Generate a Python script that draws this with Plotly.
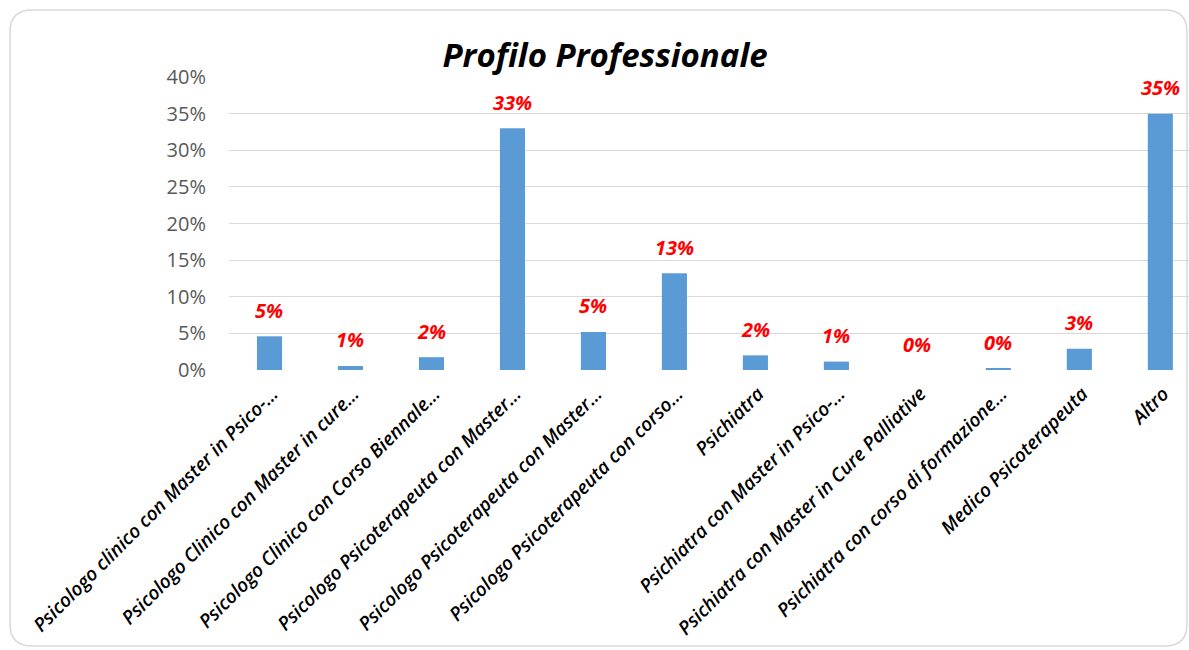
import plotly.graph_objects as go

categorie = [
    "Psicologo clinico con Master in Psico-…",
    "Psicologo Clinico con Master in cure…",
    "Psicologo Clinico con Corso Biennale…",
    "Psicologo Psicoterapeuta con Master…",
    "Psicologo Psicoterapeuta con Master…",
    "Psicologo Psicoterapeuta con corso…",
    "Psichiatra",
    "Psichiatra con Master in Psico-…",
    "Psichiatra con Master in Cure Palliative",
    "Psichiatra con corso di formazione…",
    "Medico Psicoterapeuta",
    "Altro",
]
valori = [0.046, 0.0055, 0.0175, 0.33, 0.052, 0.132, 0.020, 0.0115, 0.0, 0.0027, 0.029, 0.350]
etichette = [f"{v:.0%}" for v in valori]
posizioni = list(range(len(categorie)))

W, H = 1189, 650
M_L, M_R, M_T, M_B = 229, 0, 77, 280
PW, PH = W - M_L - M_R, H - M_T - M_B


def px(x):
    return (x - M_L) / PW


def py(y):
    return (H - M_B - y) / PH


fig = go.Figure()
fig.add_trace(go.Bar(
    x=posizioni, y=valori,
    marker=dict(color="#5B9BD5", line=dict(width=0)),
    width=0.31,
    hoverinfo="skip",
))

for xi, v, t in zip(posizioni, valori, etichette):
    fig.add_annotation(
        x=xi, y=v, text=t, showarrow=False,
        yanchor="middle", yshift=26,
        font=dict(family="Open Sans", size=20, color="#FF0000", weight="bold", style="italic"),
    )

# cornice arrotondata
x0, x1, y0, y1, r = 10, 1187, 10, 646, 22
path = (
    f"M {px(x0 + r)},{py(y0)} L {px(x1 - r)},{py(y0)} Q {px(x1)},{py(y0)} {px(x1)},{py(y0 + r)} "
    f"L {px(x1)},{py(y1 - r)} Q {px(x1)},{py(y1)} {px(x1 - r)},{py(y1)} "
    f"L {px(x0 + r)},{py(y1)} Q {px(x0)},{py(y1)} {px(x0)},{py(y1 - r)} "
    f"L {px(x0)},{py(y0 + r)} Q {px(x0)},{py(y0)} {px(x0 + r)},{py(y0)} Z"
)
fig.add_shape(type="path", path=path, xref="paper", yref="paper",
              line=dict(color="#D9D9D9", width=1.5), fillcolor="rgba(0,0,0,0)", layer="below")

fig.update_layout(
    width=W, height=H,
    margin=dict(l=M_L, r=M_R, t=M_T, b=M_B),
    paper_bgcolor="white", plot_bgcolor="white",
    showlegend=False,
    title=dict(
        text="Profilo Professionale",
        x=605 / W, xanchor="center", xref="container",
        y=1 - 55 / H, yanchor="middle", yref="container",
        font=dict(family="Open Sans", size=33, color="black", weight="bold", style="italic"),
    ),
    xaxis=dict(
        tickmode="array", tickvals=posizioni, ticktext=categorie,
        tickangle=-45, range=[-0.5, 11.354],
        showgrid=False, showline=False, zeroline=False, ticks="",
        ticklabelshift=3, ticklabelstandoff=8,
        tickfont=dict(family="Open Sans", size=19, color="black", weight=600, style="italic"),
    ),
    yaxis=dict(
        range=[0, 0.4], dtick=0.05, tickformat=".0%",
        showgrid=True, gridcolor="#D9D9D9", gridwidth=1,
        zeroline=False, showline=False, ticks="",
        ticklabelstandoff=22,
        tickfont=dict(family="Open Sans", size=20, color="#595959"),
    ),
)

# niente margine della pagina: il grafico parte da (0,0)
fig.write_html("out.html", config={"displayModeBar": False},
               post_script="document.body.style.margin='0';document.body.style.overflow='hidden';")
